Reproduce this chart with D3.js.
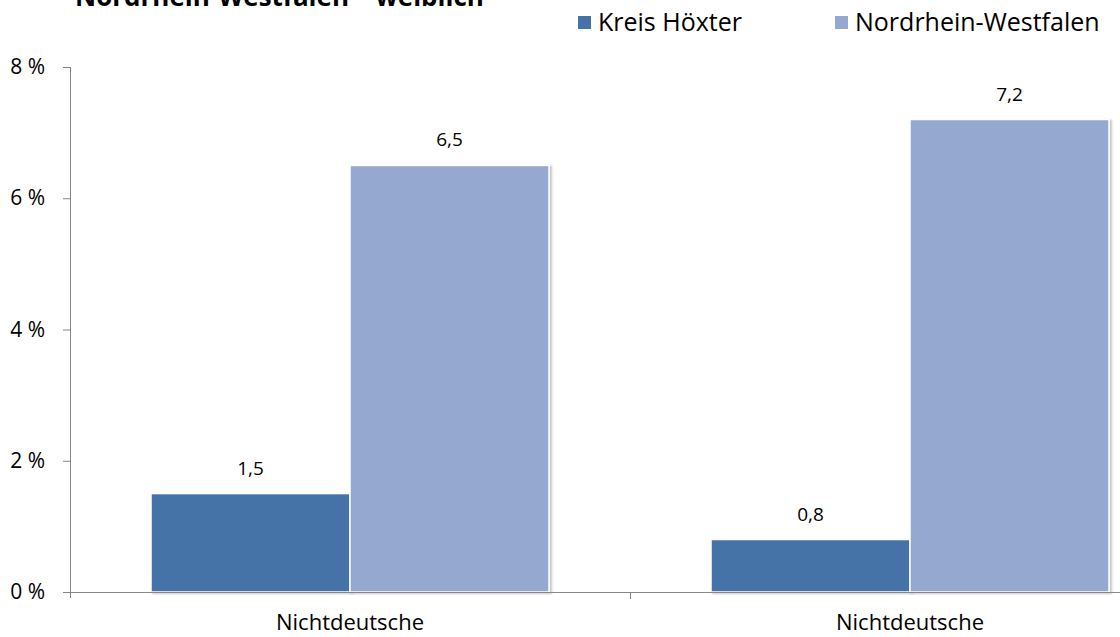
<!DOCTYPE html>
<html><head><meta charset="utf-8">
<script src="https://cdn.jsdelivr.net/npm/d3@7"></script>
<style>body{margin:0;background:#fff}svg{display:block}text{font-family:"Open Sans",sans-serif}</style>
</head><body>
<svg id="c" width="1120" height="637"></svg>
<script>
const title = "Nordrhein-Westfalen – weiblich";
const categories = ["Nichtdeutsche", "Nichtdeutsche "];
const seriesNames = ["Kreis Höxter", "Nordrhein-Westfalen"];
const kreisValues = [1.5, 0.8];
const nrwValues = [6.5, 7.2];
const yTicks = [0, 2, 4, 6, 8];
const colors = ["#4572A7", "#95A9D0"];

const svg = d3.select("#c");
const x = d3.scaleBand().domain(categories).range([70, 1190]);
const y = d3.scaleLinear().domain([0, 8]).range([592, 67]);
const inner = d3.scaleBand().domain(seriesNames).range([81, x.bandwidth() - 81]);

const defs = svg.append("defs");
const f = defs.append("filter").attr("id","sh").attr("x","-10%").attr("y","-10%").attr("width","130%").attr("height","130%");
f.append("feDropShadow").attr("dx",2).attr("dy",1).attr("stdDeviation",1.2).attr("flood-color","#000").attr("flood-opacity",0.25);

// title (clipped at top, as in the reference)
svg.append("text").attr("x", 75).attr("y", 6).attr("font-size", 26).attr("font-weight", "bold").attr("fill","#000").text(title);

// legend
const lg = [{n:seriesNames[0], x:578, c:colors[0]}, {n:seriesNames[1], x:835, c:colors[1]}];
lg.forEach(d => {
  svg.append("rect").attr("x", d.x).attr("y", 16).attr("width", 13).attr("height", 13).attr("fill", d.c);
  svg.append("text").attr("x", d.x + 20).attr("y", 31).attr("font-size", 25).attr("fill","#000").text(d.n);
});

// bars
const data = categories.map((c, i) => ({c, vals: [kreisValues[i], nrwValues[i]]}));
const g = svg.append("g");
data.forEach(d => {
  d.vals.forEach((v, j) => {
    const bx = x(d.c) + inner(seriesNames[j]);
    g.append("rect").attr("x", bx).attr("y", y(v)).attr("width", inner.bandwidth()).attr("height", y(0) - y(v))
      .attr("fill", colors[j]).attr("stroke", "#fff").attr("stroke-width", 1.5).attr("filter","url(#sh)");
    g.append("text").attr("x", bx + inner.bandwidth()/2).attr("y", y(v) - 19).attr("text-anchor","middle")
      .attr("font-size", 19).attr("fill","#000").text(v.toFixed(1).replace(".", ","));
  });
});

// y axis
const yAxis = d3.axisLeft(y).tickValues(yTicks).tickSize(7).tickFormat(d => d + " %");
const ya = svg.append("g").attr("transform","translate(70,0)").call(yAxis);
ya.select(".domain").attr("stroke","#868686").attr("d", "M0.5,67V598");
ya.selectAll(".tick line").attr("stroke","#868686");
ya.selectAll(".tick text").attr("font-size", 21).attr("fill","#000").attr("x", -25).attr("font-family","'Open Sans',sans-serif");

// x axis
svg.append("line").attr("x1", 70).attr("x2", 1120).attr("y1", 592.5).attr("y2", 592.5).attr("stroke","#868686");
svg.append("line").attr("x1", x(categories[1])+0.5).attr("x2", x(categories[1])+0.5).attr("y1", 592).attr("y2", 599).attr("stroke","#868686");
categories.forEach(c => {
  svg.append("text").attr("x", x(c) + x.bandwidth()/2).attr("y", 630).attr("text-anchor","middle").attr("font-size", 22).attr("fill","#000").text(c.trim());
});
</script>
</body></html>
